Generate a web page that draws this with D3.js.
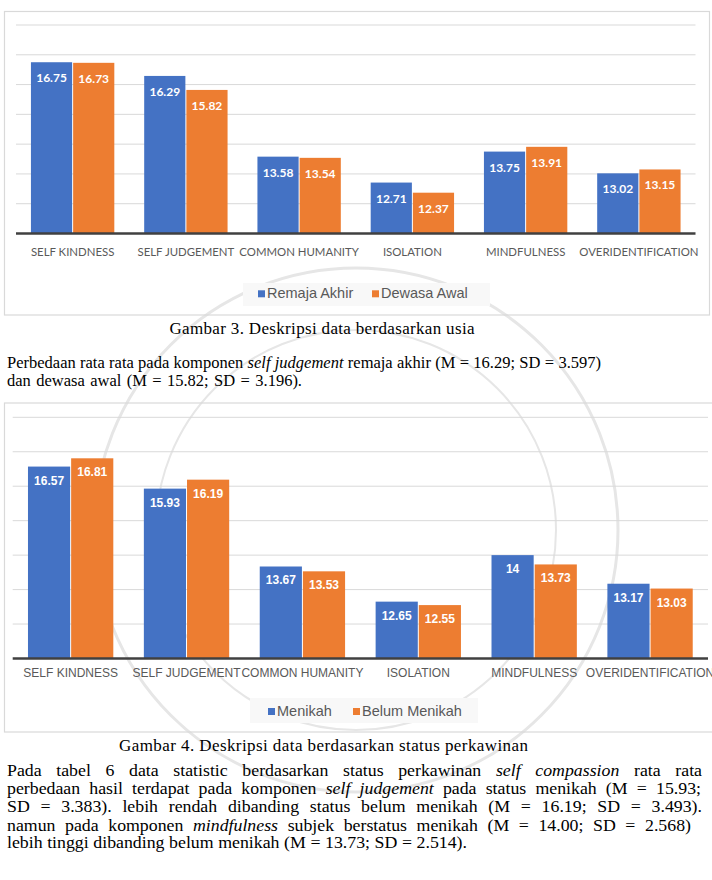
<!DOCTYPE html>
<html>
<head>
<meta charset="utf-8">
<script src="https://cdn.jsdelivr.net/npm/d3@7"></script>
<style>
  body { margin: 0; background: #fff; }
  svg { display: block; }
</style>
</head>
<body>
<div id="svg-area"></div>
<script>
// chart data
var categories = ["SELF KINDNESS", "SELF JUDGEMENT", "COMMON HUMANITY", "ISOLATION", "MINDFULNESS", "OVERIDENTIFICATION"];
var remajaAkhir = [16.75, 16.29, 13.58, 12.71, 13.75, 13.02];
var dewasaAwal = [16.73, 15.82, 13.54, 12.37, 13.91, 13.15];
var menikah = [16.57, 15.93, 13.67, 12.65, 14, 13.17];
var belumMenikah = [16.81, 16.19, 13.53, 12.55, 13.73, 13.03];
var gridTicks = [12, 13, 14, 15, 16, 17, 18];
var yDomain = [11, 18];

var blue = "#4472C4";
var orange = "#ED7D31";

var svgWidth = 712;
var svgHeight = 880;

var svg = d3.select("#svg-area")
  .append("svg")
  .attr("width", svgWidth)
  .attr("height", svgHeight);

// faint watermark rings behind everything
var wm = svg.append("g").attr("fill", "none").attr("stroke", "#e6e6e6");
wm.append("circle").attr("cx", 356).attr("cy", 530).attr("r", 262).attr("stroke-width", 3);
wm.append("circle").attr("cx", 356).attr("cy", 530).attr("r", 200).attr("stroke-width", 2);

function drawChart(cfg) {
  var g = svg.append("g");

  // outer frame
  g.append("rect")
    .attr("x", cfg.box[0]).attr("y", cfg.box[1])
    .attr("width", cfg.box[2]).attr("height", cfg.box[3])
    .attr("fill", "none")
    .attr("stroke", "#d9d9d9")
    .attr("stroke-width", 1.2);

  var xScale = d3.scaleBand()
    .domain(categories)
    .range([cfg.left, cfg.right])
    .paddingInner(0.255)
    .paddingOuter(0.1275);

  var xSub = d3.scaleBand()
    .domain([0, 1])
    .range([0, xScale.bandwidth()]);

  var yScale = d3.scaleLinear()
    .domain(yDomain)
    .range([cfg.bottom, cfg.top]);

  // gridlines
  g.selectAll(".grid")
    .data(gridTicks)
    .enter().append("line")
    .attr("x1", cfg.left).attr("x2", cfg.right)
    .attr("y1", d => yScale(d)).attr("y2", d => yScale(d))
    .attr("stroke", "#d9d9d9")
    .attr("stroke-width", 1);

  var rows = [];
  cfg.series.forEach(function(s, si) {
    s.values.forEach(function(v, i) {
      rows.push({cat: categories[i], si: si, value: v, color: s.color});
    });
  });

  g.selectAll(".bar")
    .data(rows)
    .enter().append("rect")
    .attr("x", d => xScale(d.cat) + xSub(d.si) + 0.5)
    .attr("y", d => yScale(d.value))
    .attr("width", xSub.bandwidth() - 1)
    .attr("height", d => yScale(yDomain[0]) - yScale(d.value))
    .attr("fill", d => d.color);

  // value labels inside bar tops
  g.selectAll(".val")
    .data(rows)
    .enter().append("text")
    .attr("x", d => xScale(d.cat) + xSub(d.si) + xSub.bandwidth() / 2)
    .attr("y", d => yScale(d.value) + cfg.labelDy)
    .attr("text-anchor", "middle")
    .attr("fill", "#fff")
    .attr("font-family", cfg.labelFont)
    .attr("font-weight", "bold")
    .attr("font-size", cfg.labelSize)
    .text(d => d.value);

  // baseline
  g.append("line")
    .attr("x1", cfg.left).attr("x2", cfg.right)
    .attr("y1", yScale(yDomain[0])).attr("y2", yScale(yDomain[0]))
    .attr("stroke", "#404040")
    .attr("stroke-width", 2.5);

  // category labels
  g.selectAll(".cat")
    .data(categories)
    .enter().append("text")
    .attr("x", d => xScale(d) + xScale.bandwidth() / 2)
    .attr("y", cfg.catY)
    .attr("text-anchor", "middle")
    .attr("fill", "#595959")
    .attr("font-family", cfg.catFont)
    .attr("font-size", cfg.catSize)
    .text(d => d);

  // legend
  g.append("rect")
    .attr("x", cfg.legendBox[0]).attr("y", cfg.legendBox[1])
    .attr("width", cfg.legendBox[2]).attr("height", cfg.legendBox[3])
    .attr("fill", "#f8f8f8");

  cfg.series.forEach(function(s) {
    g.append("rect")
      .attr("x", s.lx).attr("y", cfg.legendY - 8)
      .attr("width", 7).attr("height", 7)
      .attr("fill", s.color);
    g.append("text")
      .attr("x", s.lx + 9)
      .attr("y", cfg.legendY)
      .attr("fill", "#595959")
      .attr("font-family", "Liberation Sans, Arial, sans-serif")
      .attr("font-size", 14.5)
      .text(s.name);
  });
}

drawChart({
  box: [4.5, 11.5, 705, 303.5],
  left: 16, right: 695.5, top: 25, bottom: 233.5,
  labelDy: 20, labelFont: "Lato, sans-serif", labelSize: 12,
  catY: 255.7, catFont: "Lato, sans-serif", catSize: 11.4,
  legendBox: [243, 283, 247, 23], legendY: 298.3,
  series: [
    {name: "Remaja Akhir", values: remajaAkhir, color: blue, lx: 258},
    {name: "Dewasa Awal", values: dewasaAwal, color: orange, lx: 372}
  ]
});

drawChart({
  box: [4.5, 403, 712, 329],
  left: 12.7, right: 708, top: 417.3, bottom: 658.5,
  labelDy: 18, labelFont: "Liberation Sans, Arial, sans-serif", labelSize: 12,
  catY: 677.3, catFont: "Liberation Sans, Arial, sans-serif", catSize: 12,
  legendBox: [250, 698, 228, 25], legendY: 716,
  series: [
    {name: "Menikah", values: menikah, color: blue, lx: 268},
    {name: "Belum Menikah", values: belumMenikah, color: orange, lx: 353}
  ]
});

// captions and body text
var serif = "Liberation Serif, Times New Roman, serif";
var serifSize = 16.5;

svg.append("text")
  .attr("x", 169.5).attr("y", 334)
  .attr("font-family", serif).attr("font-size", 17)
  .attr("textLength", 305)
  .text("Gambar 3. Deskripsi data berdasarkan usia");

svg.append("text")
  .attr("x", 119).attr("y", 750.7)
  .attr("font-family", serif).attr("font-size", 17)
  .attr("textLength", 409)
  .text("Gambar 4. Deskripsi data berdasarkan status perkawinan");

// each line: segments [text, italic], baseline, right edge, horizontal stretch
var lines = [
  {y: 368.3, right: 601, sx: 1, segs: [["Perbedaan rata rata pada komponen ", 0], ["self judgement", 1], [" remaja akhir (M = 16.29; SD = 3.597)", 0]]},
  {y: 386, right: 302, sx: 1, segs: [["dan dewasa awal (M = 15.82; SD = 3.196).", 0]]},
  {y: 775.7, right: 702, sx: 1.08, segs: [["Pada tabel 6 data statistic berdasarkan status perkawinan ", 0], ["self compassion", 1], [" rata rata", 0]]},
  {y: 794, right: 701, sx: 1.08, segs: [["perbedaan hasil terdapat pada komponen ", 0], ["self judgement", 1], [" pada status menikah (M = 15.93;", 0]]},
  {y: 812.3, right: 702, sx: 1.08, segs: [["SD = 3.383). lebih rendah dibanding status belum menikah (M = 16.19; SD = 3.493).", 0]]},
  {y: 830.7, right: 691, sx: 1.08, segs: [["namun pada komponen ", 0], ["mindfulness", 1], [" subjek berstatus menikah (M = 14.00; SD = 2.568)", 0]]},
  {y: 848.3, right: 467, sx: 1.08, segs: [["lebih tinggi dibanding belum menikah (M = 13.73; SD = 2.514).", 0]]}
];

var textLeft = 7;

lines.forEach(function(line) {
  var words = [];
  line.segs.forEach(function(s) {
    s[0].split(" ").forEach(function(w) {
      if (w.length) words.push({w: w, it: s[1]});
    });
  });

  var t = svg.append("text")
    .attr("transform", "translate(" + textLeft + "," + line.y + ") scale(" + line.sx + ",1)")
    .attr("font-family", serif)
    .attr("font-size", serifSize)
    .attr("fill", "#000");

  var spans = words.map(function(d) {
    return t.append("tspan")
      .attr("font-style", d.it ? "italic" : "normal")
      .text(d.w);
  });

  // spread words so the line ends where the reference line ends
  var widths = spans.map(s => s.node().getComputedTextLength());
  var total = d3.sum(widths);
  var target = (line.right - textLeft) / line.sx;
  var gap = 4.1;
  if (words.length > 1) {
    gap = Math.max(2.5, (target - total) / (words.length - 1));
  }
  var x = 0;
  spans.forEach(function(s, i) {
    s.attr("x", x);
    x += widths[i] + gap;
  });
});
</script>
</body>
</html>
